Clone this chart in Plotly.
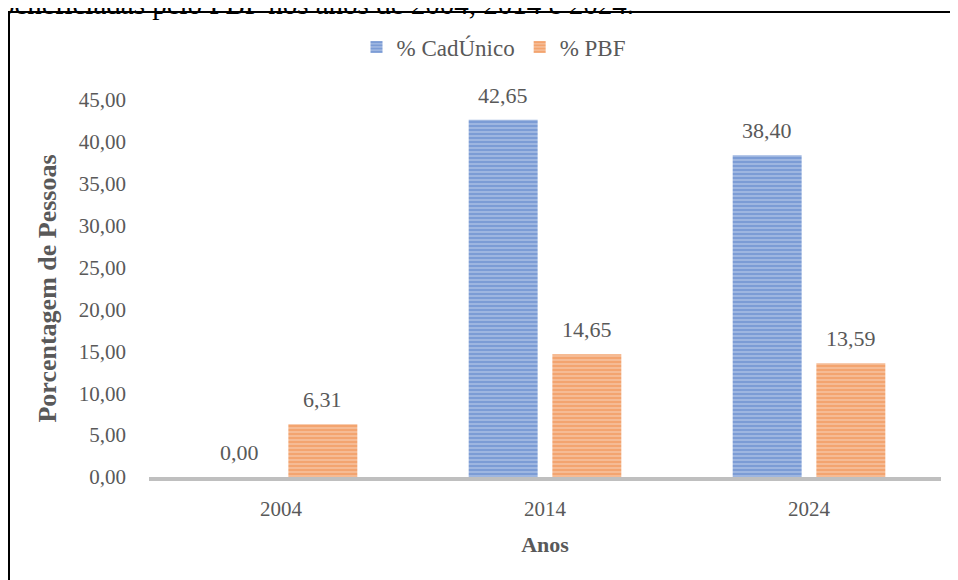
import plotly.graph_objects as go

anos = ["2004", "2014", "2024"]
cadunico = [0.00, 42.65, 38.40]
pbf = [6.31, 14.65, 13.59]
y_ticks = [0, 5, 10, 15, 20, 25, 30, 35, 40, 45]

W, H = 958, 580
OFF = 8  # page offset of the figure
ML, MR, MT, MB = 141, 25, 92, 111
PW, PH = W - ML - MR, H - MT - MB


def px_x(p):
    return (p - OFF - ML) / PW


def px_y(p):
    return 1 + (MT - (p - OFF)) / PH


FONT = "Liberation Serif"
GRAY = "#595959"
BAR_SHIFT = 41.8

fig = go.Figure()
fig.add_trace(go.Bar(
    x=anos, y=cadunico, name="% CadÚnico",
    marker=dict(color="#4472C4",
                pattern=dict(shape="-", fgcolor="#4472C4", bgcolor="#b4c7e7",
                             size=4, solidity=0.7),
                line=dict(width=0)),
))
fig.add_trace(go.Bar(
    x=anos, y=pbf, name="% PBF",
    marker=dict(color="#ED7D31",
                pattern=dict(shape="-", fgcolor="#ED7D31", bgcolor="#f8cbad",
                             size=4, solidity=0.7),
                line=dict(width=0)),
))

annotations = []
for serie, shift in ((cadunico, -BAR_SHIFT), (pbf, BAR_SHIFT)):
    for i, val in enumerate(serie):
        annotations.append(dict(
            x=i, y=val, xref="x", yref="y", xshift=shift, yshift=10,
            text=f"{val:.2f}".replace(".", ","), showarrow=False,
            xanchor="center", yanchor="bottom",
            font=dict(family=FONT, size=22, color=GRAY)))

annotations.append(dict(
    text="beneficiadas pelo PBF nos anos de 2004, 2014 e 2024.",
    xref="paper", yref="paper", x=px_x(-2), y=px_y(4),
    xanchor="left", yanchor="middle", showarrow=False,
    font=dict(family=FONT, size=29, color="black")))

fig.update_layout(
    width=W, height=H,
    margin=dict(l=ML, r=MR, t=MT, b=MB),
    paper_bgcolor="white", plot_bgcolor="white",
    separators=",.",
    barmode="group", bargap=0.366, bargroupgap=0.176,
    font=dict(family=FONT, size=21, color=GRAY),
    legend=dict(orientation="h", x=px_x(494), y=px_y(47), xanchor="center",
                yanchor="middle", font=dict(family=FONT, size=23, color=GRAY),
                traceorder="normal"),
    showlegend=True,
    xaxis=dict(type="category", showline=True, linecolor="#BFBFBF", linewidth=4,
               showgrid=False, ticks="", ticklabelstandoff=10,
               tickfont=dict(family=FONT, size=21, color=GRAY),
               title=dict(text="<b>Anos</b>", font=dict(family=FONT, size=22, color=GRAY),
                          standoff=17)),
    yaxis=dict(range=[0, 45], tickvals=y_ticks, tickformat=".2f", showgrid=False,
               zeroline=False, showline=False, ticks="", ticklabelstandoff=22,
               tickfont=dict(family=FONT, size=21, color=GRAY),
               title=dict(text="<b>Porcentagem de Pessoas</b>",
                          font=dict(family=FONT, size=26, color=GRAY), standoff=14)),
    shapes=[dict(type="rect", xref="paper", yref="paper",
                 x0=px_x(9), x1=px_x(1000), y0=px_y(660), y1=px_y(12),
                 line=dict(color="black", width=2), fillcolor="rgba(0,0,0,0)",
                 layer="below")],
    annotations=annotations,
)

fig.write_html("out.html")
